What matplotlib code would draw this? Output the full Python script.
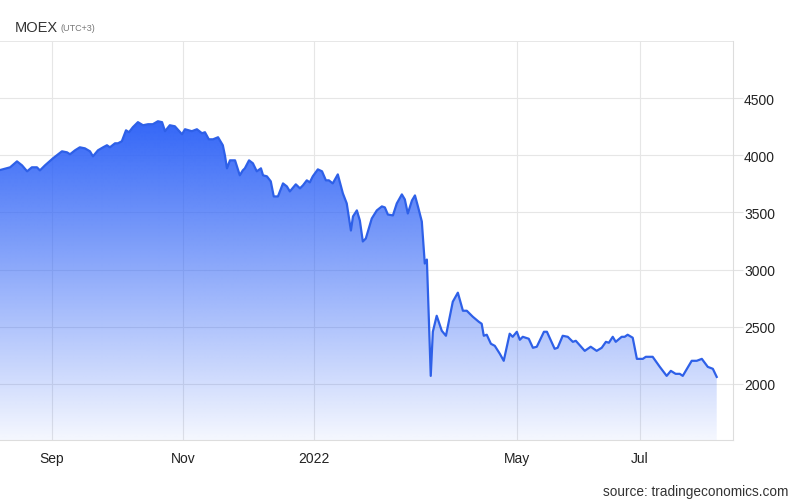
import numpy as np
import matplotlib
matplotlib.use('Agg')
import matplotlib.pyplot as plt

# MOEX index, trading sessions counted from the left edge of the chart
session = [0, 3.4, 5.7, 7.4, 9.1, 10.7, 12.4, 13.4, 15.1, 17.8, 20.8, 22.5, 23.5, 25.2, 26.8,
           28.5, 30.2, 31.2, 32.9, 34.6, 35.9, 36.9, 38.6, 39.6, 40.9, 42.3, 43.3, 44.6, 46.3,
           48.0, 49.7, 51.3, 53.0, 54.4, 55.4, 57.0, 58.7, 61.1, 62.1, 64.4, 66.1, 67.8, 68.8,
           70.1, 71.5, 73.2, 74.8, 75.5, 76.2, 77.2, 78.9, 80.5, 81.5, 82.2, 83.6, 84.9, 86.2,
           87.6, 88.3, 89.6, 90.9, 91.9, 93.3, 95.0, 96.3, 97.3, 99.3, 100.7, 101.7, 103.0,
           104.0, 105.0, 106.7, 108.1, 109.4, 110.4, 111.7, 113.4, 115.1, 116.4, 117.8, 118.5,
           119.8, 120.8, 121.8, 122.8, 124.8, 126.5, 128.2, 129.2, 130.2, 131.9, 133.2, 134.9,
           135.9, 136.9, 138.3, 139.3, 140.3, 141.6, 142.6, 143.3, 144.6, 145.3, 146.6, 148.3,
           149.7, 152.0, 153.7, 155.4, 156.7, 158.7, 160.7, 161.7, 162.4, 163.4, 164.8, 166.1,
           167.8, 169.1, 171.1, 172.1, 173.5, 174.5, 175.5, 177.5, 178.9, 180.2, 182.6, 183.6,
           186.2, 187.2, 188.9, 190.6, 192.3, 193.3, 196.3, 198.3, 200.3, 202.0, 203.4, 204.4,
           205.7, 206.7, 208.7, 209.7, 210.7, 212.4, 213.8, 215.8, 216.8, 219.1, 221.5, 223.8,
           225.2, 226.8, 228.2, 229.2, 232.2, 233.9, 235.6, 237.6, 239.3, 240.6]
moex = [3871, 3895, 3947, 3912, 3860, 3895, 3895, 3868, 3912, 3974, 4035, 4026, 4009, 4044, 4070,
        4061, 4035, 3991, 4044, 4070, 4088, 4070, 4105, 4105, 4123, 4219, 4202, 4246, 4290,
        4263, 4272, 4272, 4298, 4290, 4211, 4263, 4254, 4184, 4228, 4211, 4228, 4193, 4202,
        4140, 4140, 4158, 4088, 4000, 3886, 3956, 3956, 3825, 3868, 3886, 3956, 3930, 3860,
        3886, 3825, 3816, 3772, 3640, 3640, 3754, 3728, 3684, 3746, 3711, 3737, 3781,
        3763, 3816, 3877, 3860, 3781, 3781, 3754, 3833, 3667, 3579, 3342, 3465,
        3518, 3430, 3246, 3272, 3447, 3518, 3553, 3544, 3482, 3474, 3579, 3658,
        3614, 3491, 3605, 3649, 3553, 3421, 3053, 3088, 2070, 2456, 2596, 2465,
        2421, 2719, 2798, 2640, 2640, 2588, 2544, 2526, 2421, 2430, 2351, 2333,
        2263, 2202, 2439, 2412, 2456, 2386, 2412, 2395, 2316, 2325, 2456, 2456,
        2307, 2316, 2421, 2412, 2368, 2377, 2289, 2325, 2289, 2316, 2368, 2360,
        2412, 2368, 2412, 2412, 2430, 2404, 2219, 2219, 2237, 2237, 2149, 2070,
        2114, 2088, 2088, 2070, 2202, 2202, 2219, 2149, 2132, 2061]

month_pos = [17.4, 61.4, 105.4, 173.5, 214.8]
month_labels = ['Sep', 'Nov', '2022', 'May', 'Jul']
y_ticks = [2000, 2500, 3000, 3500, 4000, 4500]

narrow = ['Liberation Sans Narrow', 'Liberation Sans', 'DejaVu Sans']
regular = ['Liberation Sans', 'DejaVu Sans']

fig = plt.figure(figsize=(8, 5.02), dpi=100)
ax = fig.add_axes([0, 0.1215, 0.916, 0.7948])
x0, x1 = 0, 246.0
y0, y1 = 1509, 5000
ax.set_xlim(x0, x1)
ax.set_ylim(y0, y1)

# vertical gradient fill clipped to the area under the line
fill = ax.fill_between(session, moex, y0, color='none', lw=0)
yy = np.linspace(y1, y0, 400)
alpha = np.clip((yy - y0) / (4300 - y0), 0, 1) * 0.95 + 0.05
alpha = np.clip(alpha, 0, 1)
img = np.zeros((400, 2, 4))
img[..., 0] = 0.2
img[..., 1] = 0.4
img[..., 2] = 0.97
img[..., 3] = alpha[:, None]
im = ax.imshow(img, extent=[x0, x1, y0, y1], aspect='auto', zorder=1, interpolation='bilinear')
path = fill.get_paths()[0]
im.set_clip_path(path, transform=ax.transData)

ax.plot(session, moex, color='#2e60e8', lw=1.6, zorder=3, solid_joinstyle='round')

ax.set_xticks(month_pos)
ax.set_xticklabels(month_labels, family=narrow, fontsize=10, color='#222222')
ax.yaxis.tick_right()
ax.set_yticks(y_ticks)
ax.set_yticklabels([str(v) for v in y_ticks], family=regular, fontsize=10, color='#222222')
ax.tick_params(axis='x', length=0, pad=8)
ax.tick_params(axis='y', length=7, width=0.8, color='#e3e3e3', pad=1)

ax.grid(True, color='#e6e6e6', lw=0.8, zorder=0)
ax.axhline(y1, color='#e3e3e3', lw=1.2, zorder=0)
for s in ['left', 'top']:
    ax.spines[s].set_visible(False)
ax.spines['right'].set_color('#dddddd')
ax.spines['bottom'].set_color('#dddddd')
ax.set_axisbelow(True)

fig.text(0.019, 0.944, 'MOEX', family=regular, fontsize=10.5, color='#333333', va='center')
fig.text(0.076, 0.943, '(UTC+3)', family=regular, fontsize=6.5, color='#777777', va='center')
fig.text(0.985, 0.006, 'source: tradingeconomics.com', family=narrow, fontsize=9.8,
         color='#333333', ha='right', va='bottom')

fig.savefig('out.png', dpi=100)
